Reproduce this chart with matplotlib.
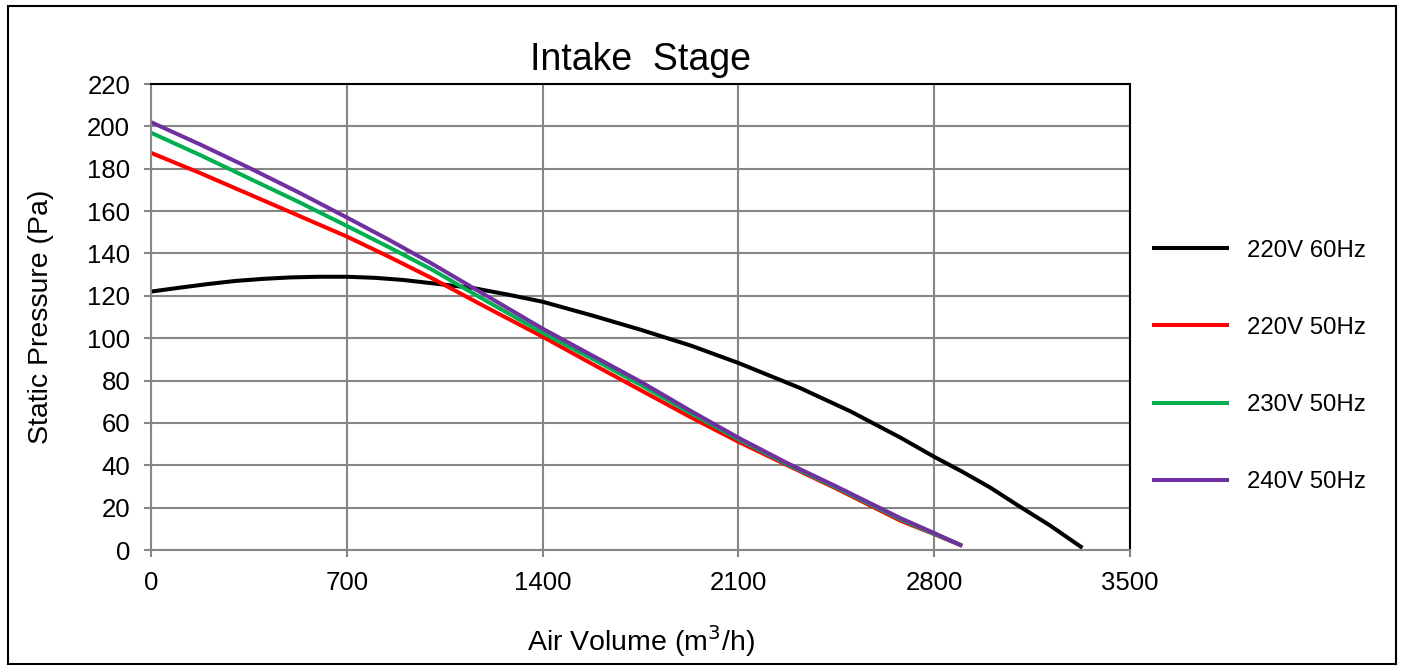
import matplotlib
matplotlib.use("Agg")
import matplotlib.pyplot as plt
from matplotlib.patches import Rectangle

plt.rcParams["font.family"] = ["Liberation Sans", "DejaVu Sans"]

GRIS = "#868686"

# datos (m3/h, Pa)
q_60 = [0, 100, 200, 300, 400, 500, 600, 700, 800, 900, 1000, 1150, 1275,
        1400, 1575, 1750, 1930, 2100, 2320, 2500, 2680, 2800, 2900, 3000,
        3100, 3215, 3330]
p_220_60 = [122, 123.8, 125.5, 127, 128, 128.7, 129, 129, 128.5, 127.5, 126,
            123.7, 120.6, 117.2, 110.8, 104, 96.5, 88.3, 76.5, 65.5, 53, 44,
            37, 29.5, 21, 11.5, 1]

q_50 = [0, 175, 350, 525, 700, 850, 1000, 1200, 1400, 1575, 1750, 1925,
        2100, 2275, 2450, 2680, 2800, 2900]
p_220_50 = [187.5, 178, 168, 158, 148, 138.5, 128.6, 114.5, 100.7, 88, 75.5,
            63, 51.1, 40, 29, 13.8, 7.5, 2]
p_230_50 = [197, 186.5, 175.5, 164.5, 153, 143, 132.7, 117.5, 102.6, 90.5,
            78, 65, 52.3, 40.5, 29.5, 14.5, 7.6, 2]
p_240_50 = [202, 191.5, 180.5, 169, 157, 146.5, 135.5, 120, 104.5, 92, 79.5,
            66, 53, 41, 30, 15, 8, 2]

series = [("220V 60Hz", q_60, p_220_60, "#000000"),
          ("220V 50Hz", q_50, p_220_50, "#ff0000"),
          ("230V 50Hz", q_50, p_230_50, "#00b050"),
          ("240V 50Hz", q_50, p_240_50, "#7030a0")]

x_ticks = [0, 700, 1400, 2100, 2800, 3500]
y_ticks = list(range(0, 221, 20))

fig = plt.figure(figsize=(14.01, 6.71), dpi=100)
ax = fig.add_axes([151 / 1401, 121 / 671, 979 / 1401, 466 / 671])

for nombre, q, p, col in series:
    ax.plot(q, p, color=col, lw=2.9, label=nombre, solid_capstyle="butt")

ax.set_xlim(0, 3500); ax.set_ylim(0, 220)
ax.set_xticks(x_ticks); ax.set_yticks(y_ticks)
ax.grid(True, color=GRIS, lw=1.5)
ax.set_axisbelow(True)
for sp in ("left", "bottom"):
    ax.spines[sp].set_color(GRIS); ax.spines[sp].set_linewidth(1.5)
for sp in ("top", "right"):
    ax.spines[sp].set_color("black"); ax.spines[sp].set_linewidth(1.5)
ax.tick_params(direction="out", length=5, width=1.5, color=GRIS,
               labelsize=18.5, pad=10)

ax.set_title("Intake  Stage", fontsize=27, pad=10)
ax.set_xlabel("Air Volume (m$^3$/h)", fontsize=20.5, labelpad=20)
ax.set_ylabel("Static Pressure (Pa)", fontsize=20.5, labelpad=24)

fig.legend(loc="upper left", bbox_to_anchor=(1130 / 1401, 1 - 218 / 671),
           bbox_transform=fig.transFigure, frameon=False, fontsize=17.3,
           handlelength=3.2, handletextpad=0.75, labelspacing=2.3)

fig.patches.append(Rectangle((8 / 1401, 7 / 671), 1388 / 1401, 658 / 671,
                             transform=fig.transFigure, fill=False,
                             edgecolor="black", lw=1.5))

fig.savefig("out.png", dpi=100)
